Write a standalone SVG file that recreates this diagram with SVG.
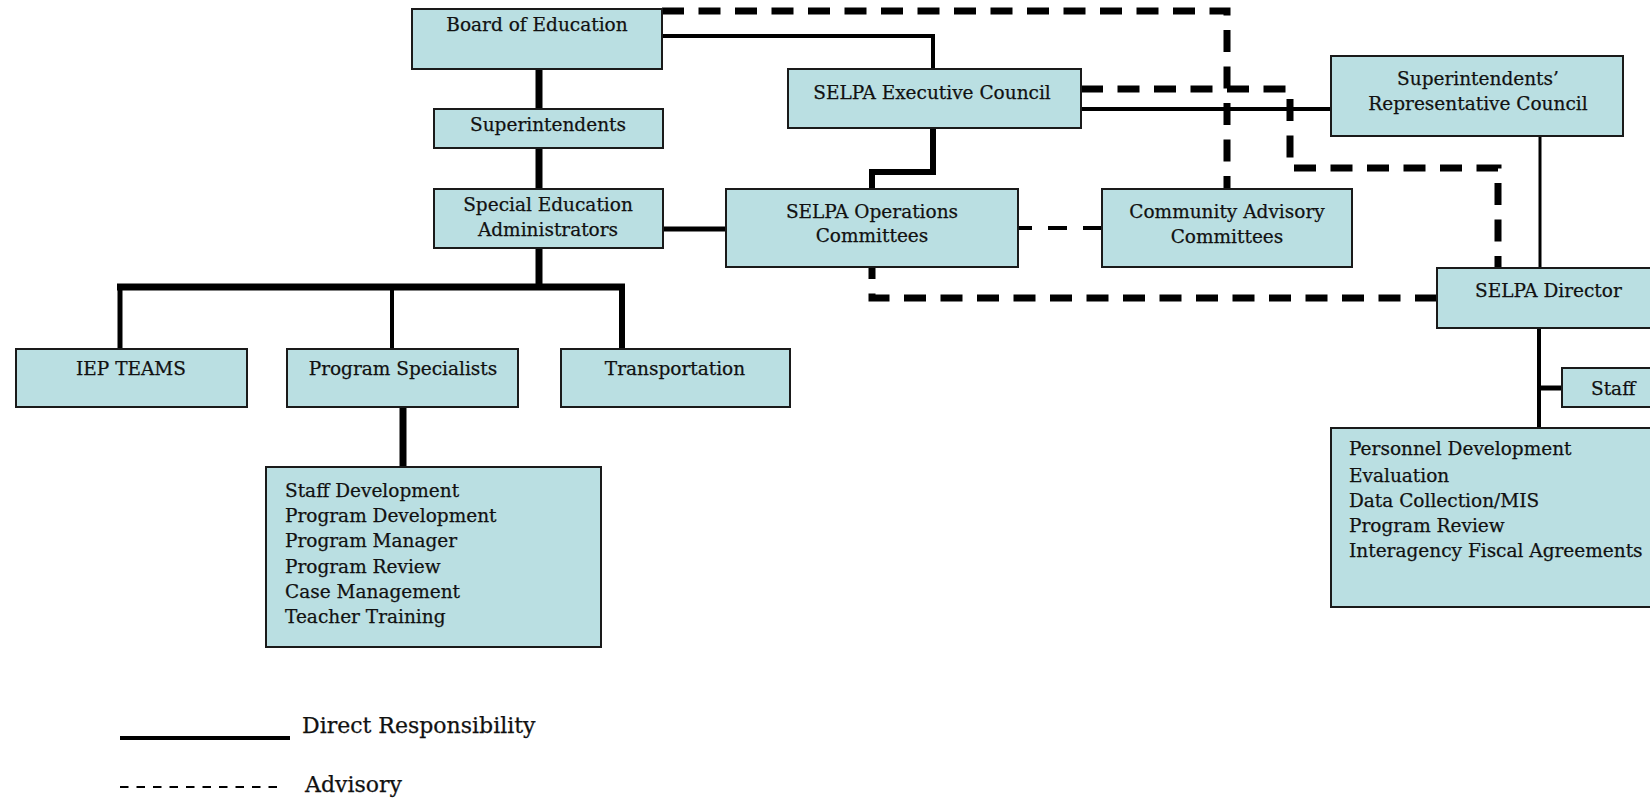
<svg xmlns="http://www.w3.org/2000/svg" width="1650" height="801" viewBox="0 0 1650 801">
<style>
.box{fill:#BADFE2;stroke:#1a1a1a;stroke-width:2}
.t{font-family:"DejaVu Serif","Liberation Serif",serif;font-size:18.5px;fill:#111;stroke:#111;stroke-width:0.25}
.c{text-anchor:middle}
.lg{font-family:"DejaVu Serif","Liberation Serif",serif;font-size:22px;fill:#111;stroke:#111;stroke-width:0.25}
.s{fill:none;stroke:#000;stroke-linejoin:miter;stroke-linecap:butt}
.d{fill:none;stroke:#000;stroke-width:7;stroke-dasharray:22 14.5}
</style>
<rect width="1650" height="801" fill="#fff"/>
<g id="connectors">
<path class="s" stroke-width="7" d="M539,69 V109"/>
<path class="s" stroke-width="7" d="M539,148 V189"/>
<path class="s" stroke-width="7" d="M539,248 V287"/>
<path class="s" stroke-width="7" d="M117,287 H625"/>
<path class="s" stroke-width="5" d="M120,287 V349"/>
<path class="s" stroke-width="4" d="M392,287 V349"/>
<path class="s" stroke-width="6" d="M622,287 V349"/>
<path class="s" stroke-width="7" d="M403,407 V467"/>
<path class="s" stroke-width="4" d="M662,36 H933 V69"/>
<path class="s" stroke-width="6" d="M933,128 V172 H872 V189"/>
<path class="s" stroke-width="5" d="M663,229 H726"/>
<path class="s" stroke-width="4" d="M1081,109 H1331"/>
<path class="s" stroke-width="3" d="M1540,136 V268"/>
<path class="s" stroke-width="4" d="M1539,328 V428"/>
<path class="s" stroke-width="5" d="M1539,388 H1562"/>
<path class="d" d="M662,11 H1227 V189"/>
<path class="d" d="M1081,89 H1290 V168 H1498 V268"/>
<path class="d" d="M1437,298 H872 V267"/>
<path class="s" stroke-width="4" stroke-dasharray="19 16" d="M1102,228 H1018"/>
</g>
<g id="board"><rect class="box" x="412" y="9" width="250" height="60"/><text class="t c" x="537" y="31">Board of Education</text></g>
<g id="superintendents"><rect class="box" x="434" y="109" width="229" height="39"/><text class="t c" x="548" y="131">Superintendents</text></g>
<g id="sped-admin"><rect class="box" x="434" y="189" width="229" height="59"/><text class="t c" x="548" y="211">Special Education</text><text class="t c" x="548" y="236">Administrators</text></g>
<g id="exec-council"><rect class="box" x="788" y="69" width="293" height="59"/><text class="t c" x="932" y="99">SELPA Executive Council</text></g>
<g id="ops-committees"><rect class="box" x="726" y="189" width="292" height="78"/><text class="t c" x="872" y="218">SELPA Operations</text><text class="t c" x="872" y="242">Committees</text></g>
<g id="community-advisory"><rect class="box" x="1102" y="189" width="250" height="78"/><text class="t c" x="1227" y="218">Community Advisory</text><text class="t c" x="1227" y="243">Committees</text></g>
<g id="src"><rect class="box" x="1331" y="56" width="292" height="80"/><text class="t c" x="1478" y="85">Superintendents’</text><text class="t c" x="1478" y="110">Representative Council</text></g>
<g id="director"><rect class="box" x="1437" y="268" width="240" height="60"/><text class="t" x="1475" y="297">SELPA Director</text></g>
<g id="iep"><rect class="box" x="16" y="349" width="231" height="58"/><text class="t c" x="131" y="375">IEP TEAMS</text></g>
<g id="program-specialists"><rect class="box" x="287" y="349" width="231" height="58"/><text class="t c" x="403" y="375">Program Specialists</text></g>
<g id="transportation"><rect class="box" x="561" y="349" width="229" height="58"/><text class="t c" x="675" y="375">Transportation</text></g>
<g id="ps-duties"><rect class="box" x="266" y="467" width="335" height="180"/>
<text class="t" x="285" y="497">Staff Development</text>
<text class="t" x="285" y="522">Program Development</text>
<text class="t" x="285" y="547">Program Manager</text>
<text class="t" x="285" y="573">Program Review</text>
<text class="t" x="285" y="598">Case Management</text>
<text class="t" x="285" y="623">Teacher Training</text></g>
<g id="staff"><rect class="box" x="1562" y="368" width="100" height="39"/><text class="t" x="1591" y="395">Staff</text></g>
<g id="director-duties"><rect class="box" x="1331" y="428" width="330" height="179"/>
<text class="t" x="1349" y="455">Personnel Development</text>
<text class="t" x="1349" y="482">Evaluation</text>
<text class="t" x="1349" y="507">Data Collection/MIS</text>
<text class="t" x="1349" y="532">Program Review</text>
<text class="t" x="1349" y="557">Interagency Fiscal Agreements</text></g>
<g id="legend">
<path class="s" stroke-width="4" d="M120,738 H290"/>
<text class="lg" x="302" y="733">Direct Responsibility</text>
<path class="s" stroke-width="2" stroke-dasharray="8.5 8" d="M120,787 H282"/>
<text class="lg" x="305" y="792">Advisory</text>
</g>
</svg>
